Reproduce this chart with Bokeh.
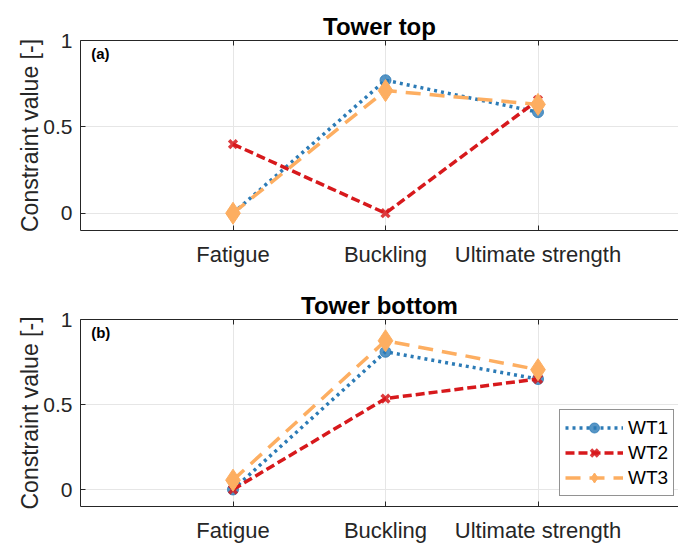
import numpy as np
from bokeh.plotting import figure
from bokeh.models import (Range1d, FixedTicker, LinearAxis, Label, Legend, LegendItem,
                          CustomJSTickFormatter)
from bokeh.layouts import column
from bokeh.embed import file_html
from bokeh.resources import INLINE

categories = ["Fatigue", "Buckling", "Ultimate strength"]
series_names = ["WT1", "WT2", "WT3"]

top_wt1 = [0.0, 0.77, 0.585]
top_wt2 = [0.40, 0.0, 0.655]
top_wt3 = [0.0, 0.71, 0.63]

bottom_wt1 = [0.0, 0.81, 0.65]
bottom_wt2 = [0.0, 0.535, 0.65]
bottom_wt3 = [0.055, 0.875, 0.705]

y_ticks = [0, 0.5, 1]
y_tick_labels = ["0", "0.5", "1"]

colors = ["#2c7bb6", "#d7191c", "#fdae61"]
dashes = ["3 4", "9 4", "15 9"]

FONT = "Liberation Sans"
AX = "#262626"
x_pos = list(range(1, len(categories) + 1))


def make_fig(title, tag, data, height, top, bottom, legend=False):
    p = figure(width=678, height=height, output_backend="svg", toolbar_location=None,
               x_range=Range1d(0, 598 / 152.5), y_range=Range1d(-0.1, 1.0),
               min_border_left=80, min_border_right=0, min_border_top=top,
               min_border_bottom=bottom, x_axis_location=None, y_axis_location=None)
    p.outline_line_color = None
    p.background_fill_color = "white"
    p.border_fill_color = "white"

    p.title.text = title
    p.title.text_font = FONT
    p.title.text_font_size = "24px"
    p.title.text_font_style = "bold"
    p.title.text_color = "black"
    p.title.align = "center"
    p.title.offset = 6
    p.title.standoff = 2

    xt = FixedTicker(ticks=x_pos)
    yt = FixedTicker(ticks=y_ticks)

    xb = LinearAxis(ticker=xt)
    xb.major_label_overrides = {x: c for x, c in zip(x_pos, categories)}
    xa = LinearAxis(ticker=xt, formatter=CustomJSTickFormatter(code="return ''"))
    xa.major_label_standoff = 0
    yl = LinearAxis(ticker=yt)
    yl.major_label_overrides = {t: s for t, s in zip(y_ticks, y_tick_labels)}
    yl.axis_label = "Constraint value [-]"
    yl.axis_label_text_font = FONT
    yl.axis_label_text_font_size = "23px"
    yl.axis_label_text_font_style = "normal"
    yl.axis_label_text_color = AX
    yl.axis_label_standoff = -3
    for ax in (xb, xa, yl):
        ax.major_tick_in = 5
        ax.major_tick_out = 0
        ax.minor_tick_line_color = None
        ax.axis_line_color = AX
        ax.major_tick_line_color = AX
        ax.major_label_text_font = FONT
        ax.major_label_text_color = AX
    xb.major_label_text_font_size = "22px"
    xb.major_label_standoff = 11
    yl.major_label_text_font_size = "21px"
    yl.major_label_standoff = 8
    p.add_layout(xb, "below")
    p.add_layout(xa, "above")
    p.add_layout(yl, "left")

    p.xgrid.ticker = xt
    p.ygrid.ticker = yt
    p.xgrid.grid_line_color = "#e6e6e6"
    p.ygrid.grid_line_color = "#e6e6e6"

    items = []
    for i, (name, vals) in enumerate(zip(series_names, data)):
        r1 = p.line(x_pos, vals, line_color=colors[i], line_width=3.5, line_dash=dashes[i])
        if i == 0:
            r2 = p.scatter(x_pos, vals, marker="circle", size=11, fill_color=colors[i],
                           line_color=colors[i], fill_alpha=0.8, line_alpha=0.8)
        elif i == 1:
            r2 = p.scatter(x_pos, vals, marker="x", size=11, line_color=colors[i],
                           line_width=3.5, line_alpha=0.85)
        else:
            r2 = p.scatter(x_pos, vals, marker="diamond", size=22,
                           fill_color=colors[i], line_color=colors[i])
        items.append(LegendItem(label=name, renderers=[r1, r2]))

    p.add_layout(Label(x=0.07, y=0.925, text=tag, text_font=FONT, text_font_size="15px",
                       text_font_style="bold", text_baseline="middle", text_color="black"))

    if legend:
        lg = Legend(items=items, location=(479, 10), margin=0, padding=5, spacing=0,
                    glyph_width=58, glyph_height=25, label_height=25, label_standoff=5,
                    label_text_font=FONT, label_text_font_size="19px", label_text_color="black",
                    border_line_color=AX, border_line_width=1, background_fill_alpha=1)
        p.add_layout(lg, "center")
    return p


p1 = make_fig("Tower top", "(a)", [top_wt1, top_wt2, top_wt3], 272, 40, 42)
p2 = make_fig("Tower bottom", "(b)", [bottom_wt1, bottom_wt2, bottom_wt3], 273, 47, 36, legend=True)

layout = column(p1, p2, spacing=0)
open("out.html", "w").write(file_html(layout, INLINE))
